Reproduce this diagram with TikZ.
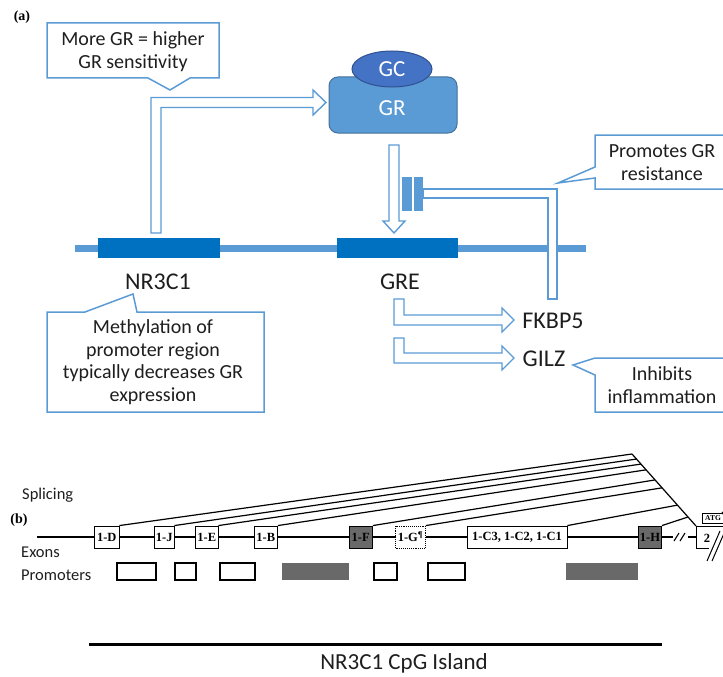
\documentclass[tikz,border=0pt]{standalone}
\usepackage{fontspec}
\setmainfont{Carlito}
\newfontfamily\tnr{Liberation Serif}
\usetikzlibrary{calc,shapes.geometric}
\definecolor{cblue}{RGB}{91,155,213}
\definecolor{dblue}{RGB}{0,112,192}
\definecolor{grfill}{RGB}{91,155,213}
\definecolor{grline}{RGB}{65,113,156}
\definecolor{gcfill}{RGB}{68,114,196}
\definecolor{gcline}{RGB}{47,82,143}
\definecolor{txt}{RGB}{30,30,30}
\definecolor{exgray}{RGB}{105,105,105}
\begin{document}
\begin{tikzpicture}[x=1pt,y=-1pt,
 callout/.style={draw=cblue,line width=1.5pt,fill=white,line join=miter},
 hollow/.style={draw=cblue,line width=1.4pt,fill=white,line join=miter},
 ctext/.style={font=\fontsize{20}{22.5}\selectfont,text=txt,align=center,inner sep=0},
 gene/.style={font=\fontsize{24}{28}\selectfont,text=txt,inner sep=0},
 exon/.style={draw=black,line width=0.9pt,fill=white,minimum height=22pt,inner sep=0,font=\tnr\bfseries\fontsize{12.5}{12.5}\selectfont},
 darkexon/.style={exon,fill=exgray},
 prom/.style={draw=black,line width=1.4pt,fill=white,minimum height=17pt,inner sep=0},
 gprom/.style={fill=exgray,minimum height=17pt,inner sep=0},
 lbl/.style={font=\fontsize{16.5}{18}\selectfont,text=txt,anchor=west,inner sep=0},
 splice/.style={line width=1.2pt},
]
\useasboundingbox (0,0) rectangle (723,677);

% ---------- panel (a) ----------
\node[font=\tnr\bfseries\fontsize{14}{14}\selectfont,inner sep=0] (lblA) at (22,17) {(a)};

% callout 1
\draw[callout] (47,23) -- (219,23) -- (219,78) -- (190,78) -- (170,90) -- (148,78) -- (47,78) -- cycle;
\node[ctext] (c1) at (133,51.5) {More GR = higher\\GR sensitivity};

% DNA bar
\fill[cblue] (75,245) rectangle (586,252);
\fill[dblue] (98,238) rectangle (220,258);
\fill[dblue] (337,238) rectangle (458,258);

% GR / GC
\node[draw=grline,fill=grfill,rounded corners=9pt,minimum width=128pt,minimum height=56pt,line width=1pt] (gr) at (393,105) {};
\node[ellipse,draw=gcline,fill=gcfill,minimum width=80pt,minimum height=36pt,line width=1pt,inner sep=0,text=white,font=\fontsize{23}{25}\selectfont] (gc) at (392,69) {GC};
\node[text=white,font=\fontsize{23}{25}\selectfont,inner sep=0] (grl) at (392,108) {GR};

% arrow NR3C1 -> GR
\draw[hollow] (151,233) -- (151,97.5) -- (313,97.5) -- (313,90) -- (326,102.5) -- (313,115) -- (313,107.5) -- (161,107.5) -- (161,233) -- cycle;
% arrow GR -> GRE
\draw[hollow] (389,145) -- (399,145) -- (399,221) -- (405,221) -- (394,233) -- (383,221) -- (389,221) -- cycle;

% inhibition FKBP5 -| GR
\draw[hollow] (423,189) -- (557,189) -- (557,299) -- (548,299) -- (548,198) -- (423,198) -- cycle;
\fill[cblue] (402,177) rectangle (411.5,211);
\fill[cblue] (413.5,177) rectangle (423,211);

% callout promotes
\draw[callout] (595,135) -- (726,135) -- (726,189) -- (595,189) -- (595,178) -- (558,183) -- (595,167) -- cycle;
\node[ctext] (c2) at (662,162.5) {Promotes GR\\resistance};

% gene labels
\node[gene] (nr) at (158,282) {NR3C1};
\node[gene] (gre) at (400,282) {GRE};
\node[gene] (fk) at (553,321) {FKBP5};
\node[gene] (gilz) at (544,359) {GILZ};

% arrows GRE -> FKBP5, GILZ
\draw[hollow] (394,299) -- (404,299) -- (404,315) -- (502,315) -- (502,308) -- (514,320) -- (502,332) -- (502,325) -- (394,325) -- cycle;
\draw[hollow] (394,338) -- (404,338) -- (404,353) -- (502,353) -- (502,346) -- (514,358) -- (502,370) -- (502,363) -- (394,363) -- cycle;

% callout methylation
\draw[callout] (47,312) -- (85,312) -- (133,294) -- (137,312) -- (264,312) -- (264,412) -- (47,412) -- cycle;
\node[ctext] (c3) at (153,362) {Methylation of\\promoter region\\typically decreases GR\\expression};

% callout inhibits
\draw[callout] (595,358) -- (726,358) -- (726,412) -- (595,412) -- (595,375) -- (573,365) -- cycle;
\node[ctext] (c4) at (662,385) {Inhibits\\inflammation};

% ---------- panel (b) ----------
\node[lbl] (spl) at (22,495) {Splicing};
\node[font=\tnr\bfseries\fontsize{14}{14}\selectfont,inner sep=0] (lblB) at (19,520) {(b)};
\node[lbl] (exl) at (21,552) {Exons};
\node[lbl] (prl) at (21,575) {Promoters};

% main line
\draw[line width=1.5pt] (37,537) -- (673,537);
\draw[line width=1.5pt] (688,537) -- (696,537);
\draw[line width=1.1pt] (674,541) -- (679,533);
\draw[line width=1.1pt] (680,541) -- (685,533);

% exons
\node[exon,minimum width=24.5pt] (eD) at (106.75,537) {1-D};
\node[exon,minimum width=19.5pt] (eJ) at (164.25,537) {1-J};
\node[exon,minimum width=22.5pt] (eE) at (206.75,537) {1-E};
\node[exon,minimum width=23.5pt] (eB) at (265.75,537) {1-B};
\node[darkexon,minimum width=23.5pt] (eF) at (360.75,537) {1-F};
\node[exon,densely dotted,minimum width=30pt] (eG) at (410.5,537) {1-G\textsuperscript{¶}};
\node[exon,minimum width=100pt] (eC) at (517,537) {1-C3, 1-C2, 1-C1};
\node[darkexon,minimum width=23pt] (eH) at (650,537) {1-H};

% exon 2
\coordinate (apex) at (632,454);
\coordinate (e2tl) at (696,526);
\draw[line width=1pt] (726,526) -- (e2tl) -- (696,548) -- (709,548);
\draw[line width=1pt] (707,561) -- (720,531);
\draw[line width=1pt] (712,561) -- (725,531);
\node[font=\tnr\bfseries\fontsize{12.5}{12.5}\selectfont,inner sep=0] (two) at (707,538) {2};
\node[draw,line width=0.7pt,minimum width=22pt,minimum height=10pt,inner sep=0,font=\tnr\bfseries\fontsize{7.5}{7.5}\selectfont] (atg) at (713,518) {ATG};
\fill (723,513) circle (1.6pt);

% splicing
\draw[splice] (apex) -- (e2tl);
\draw[splice] (eD.north east) -- (apex);
\draw[splice] (eJ.north east) -- ($(apex)!0.07!(e2tl)$);
\draw[splice] (eE.north east) -- ($(apex)!0.14!(e2tl)$);
\draw[splice] (eB.north east) -- ($(apex)!0.22!(e2tl)$);
\draw[splice] (eF.north east) -- ($(apex)!0.36!(e2tl)$);
\draw[splice] (eG.north east) -- ($(apex)!0.47!(e2tl)$);
\draw[splice] (eC.north east) -- ($(apex)!0.71!(e2tl)$);
\draw[splice] (eH.north east) -- ($(apex)!0.875!(e2tl)$);

% promoters
\node[prom,minimum width=39pt] (p1) at (136.5,571.5) {};
\node[prom,minimum width=21pt] (p2) at (185.5,571.5) {};
\node[prom,minimum width=35pt] (p3) at (237.5,571.5) {};
\node[gprom,minimum width=67pt] (pg1) at (315.5,571.5) {};
\node[prom,minimum width=23pt] (p4) at (385.5,571.5) {};
\node[prom,minimum width=37pt] (p5) at (446.5,571.5) {};
\node[gprom,minimum width=72pt] (pg2) at (602,571.5) {};

% CpG island
\draw[line width=3pt] (89,644) -- (662,644);
\node[font=\fontsize{23}{25}\selectfont,text=txt,inner sep=0] (cpg) at (404,663) {NR3C1 CpG Island};
\end{tikzpicture}
\end{document}
